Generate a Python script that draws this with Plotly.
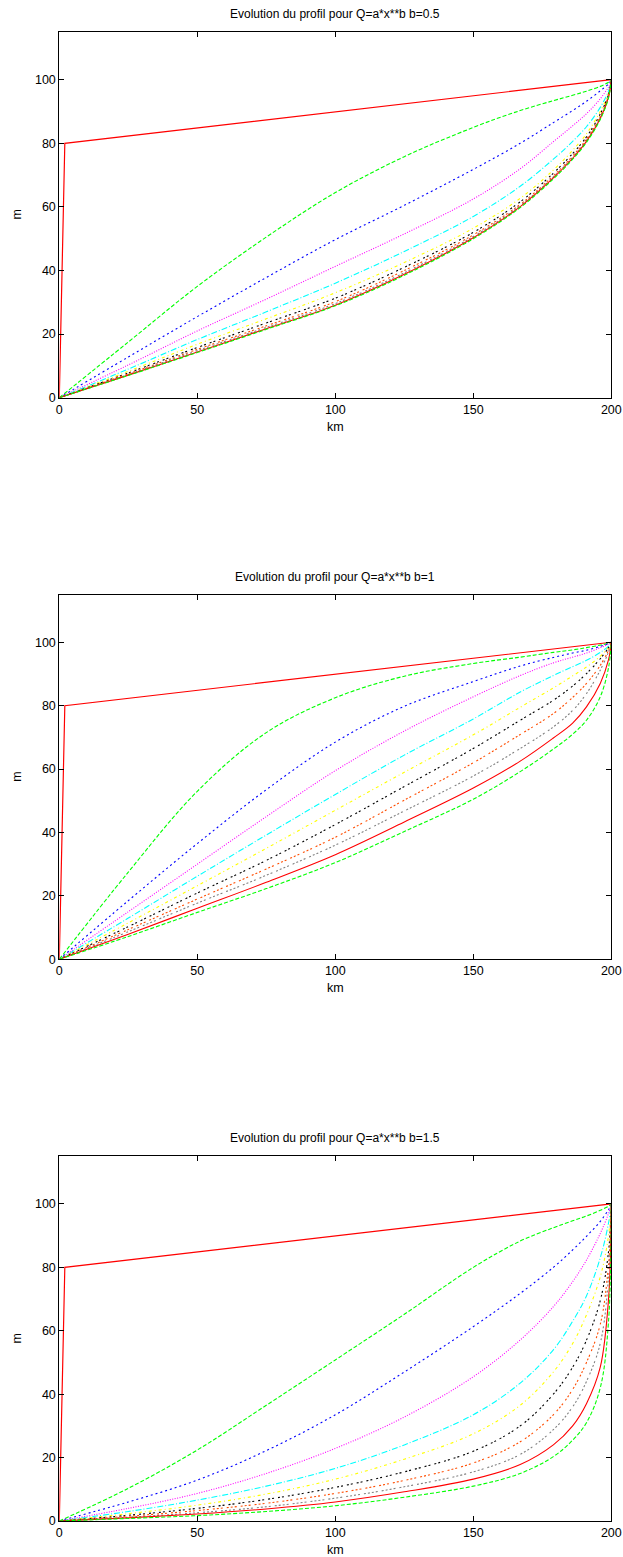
import plotly.graph_objects as go

# ---------------- data ----------------
x_km = [0, 25, 50, 75, 100, 125, 150, 167, 179, 186, 191, 196, 199, 200]

# initial profile (same in the three panels)
x_init = [0, 2, 200]
y_init = [0, 80, 100]

# panel b = 0.5
b05_c1 = [0, 17.5, 35, 50.5, 64.5, 75.8, 85, 90.3, 93.4, 95.1, 96.4, 97.9, 99.2, 100]
b05_c2 = [0, 12.8, 25.5, 37.8, 49.7, 60.5, 71.8, 80, 86.5, 90.3, 93.2, 96.5, 98.7, 100]
b05_c3 = [0, 10.3, 21, 31, 41.3, 51.5, 62.5, 72, 80.5, 85.5, 89.3, 94, 97.8, 100]
b05_c4 = [0, 9, 18.3, 27, 36, 46, 57, 66.5, 75, 80.6, 85.2, 91.3, 96.5, 100]
b05_c5 = [0, 8.3, 16.8, 24.8, 33, 42.5, 53.3, 62.7, 71.6, 77.8, 83, 90, 95.8, 100]
b05_c6 = [0, 7.8, 15.8, 23.5, 31.3, 41, 52, 61.6, 70.6, 76.8, 82, 89.2, 95.4, 100]
b05_c7 = [0, 7.5, 15.2, 22.6, 30.2, 40, 51.2, 60.8, 69.8, 76, 81.3, 88.5, 95, 100]
b05_c8 = [0, 7.3, 14.8, 22.1, 29.6, 39.3, 50.7, 60.4, 69.4, 75.6, 80.9, 88.1, 94.7, 100]
b05_c9 = [0, 7.1, 14.4, 21.7, 29.1, 38.8, 50.3, 60.1, 69.1, 75.3, 80.6, 87.8, 94.5, 100]
b05_c10 = [0, 7.0, 14.2, 21.5, 28.9, 38.5, 50, 59.8, 68.8, 75, 80.3, 87.5, 94.3, 100]

# panel b = 1
b1_c1 = [0, 27.5, 53, 71.5, 82.5, 89.3, 93.3, 95.3, 96.8, 97.6, 98.3, 99.1, 99.7, 100]
b1_c2 = [0, 18.5, 36.5, 53.5, 68.5, 79.8, 87.6, 92.5, 95.2, 96.6, 97.5, 98.7, 99.6, 100]
b1_c3 = [0, 15, 30, 45, 59.5, 72, 82.8, 89.5, 93.5, 95.3, 96.6, 98.3, 99.4, 100]
b1_c4 = [0, 13, 26.2, 39.2, 52, 64.4, 75.8, 84.3, 89.5, 92.3, 94.3, 96.8, 98.8, 100]
b1_c5 = [0, 11.5, 23.2, 35, 47, 59, 70.8, 79.5, 85.6, 89.4, 92.2, 95.6, 98.4, 100]
b1_c6 = [0, 10.3, 20.9, 31.2, 42.5, 54.5, 66.5, 75.4, 81.7, 86.2, 90.1, 94.8, 98.3, 100]
b1_c7 = [0, 9.4, 19, 28.5, 38.5, 50.2, 62, 70.9, 77.5, 82.6, 87, 92.7, 97.5, 100]
b1_c8 = [0, 8.7, 17.7, 26.5, 36, 46.8, 57.8, 66.5, 73.3, 78.5, 83.8, 91.2, 97, 100]
b1_c9 = [0, 7.9, 16.1, 24.3, 33, 43.3, 54, 62.5, 69.8, 74.5, 79.6, 87, 94.5, 100]
b1_c10 = [0, 7.2, 14.8, 22.3, 30.5, 40.3, 50.5, 59.2, 66.3, 71, 75.4, 82.8, 92, 100]

# panel b = 1.5
b15_c1 = [0, 10.3, 22.4, 36.5, 50.8, 65.2, 80, 88.3, 92.5, 94.7, 96.2, 98, 99.3, 100]
b15_c2 = [0, 6, 12.9, 22.2, 33.5, 47, 61.3, 71.8, 80, 85.5, 89.8, 94.5, 98.2, 100]
b15_c3 = [0, 4, 8.7, 15, 22.9, 32.8, 45.5, 57.1, 67.6, 75.5, 82.3, 90.7, 97, 100]
b15_c4 = [0, 3, 6.6, 11, 16.6, 24, 33.5, 43.5, 54, 63, 71, 83, 94, 100]
b15_c5 = [0, 2.3, 5, 8.5, 13.2, 19.5, 27.5, 36.5, 47, 56, 65, 77, 90, 100]
b15_c6 = [0, 1.8, 4, 6.8, 10.6, 15.5, 22, 30, 40, 48.5, 57, 69.5, 85, 100]
b15_c7 = [0, 1.5, 3.3, 5.6, 8.7, 12.8, 18.3, 25, 33.5, 41.5, 50, 62, 81, 100]
b15_c8 = [0, 1.2, 2.6, 4.5, 7.2, 10.8, 15.5, 21, 28.8, 36, 44, 56, 77, 100]
b15_c9 = [0, 1, 2.2, 3.8, 6, 9.2, 13.2, 17.8, 24, 30, 37, 48.5, 70, 100]
b15_c10 = [0, 0.8, 1.7, 3, 4.8, 7.5, 11, 15, 20.3, 25.5, 31, 42, 63, 100]

b_labels = ["0.5", "1", "1.5"]
x_ticks = [0, 50, 100, 150, 200]
y_ticks = [0, 20, 40, 60, 80, 100]

# ---------------- styles ----------------
styles = [
    ("#00ff00", "4px,2px"),
    ("#0000ff", "2px,3px"),
    ("#ff00ff", "1px,1.5px"),
    ("#00ffff", "6px,2px,1px,2px"),
    ("#ffff00", "3px,3px,1px,3px"),
    ("#000000", "2px,2px,2px,4px"),
    ("#ff4d00", "2px,2px,2px,2px,2px,4px"),
    ("#808080", "2px,2px,2px,2px,2px,2px,2px,4px"),
    ("#ff0000", "solid"),
    ("#00ff00", "4px,2px"),
]

panels = [
    [b05_c1, b05_c2, b05_c3, b05_c4, b05_c5, b05_c6, b05_c7, b05_c8, b05_c9, b05_c10],
    [b1_c1, b1_c2, b1_c3, b1_c4, b1_c5, b1_c6, b1_c7, b1_c8, b1_c9, b1_c10],
    [b15_c1, b15_c2, b15_c3, b15_c4, b15_c5, b15_c6, b15_c7, b15_c8, b15_c9, b15_c10],
]

# body margin is removed by the post script: figure coords == screen coords
W, H = 623, 1557
x_left, x_right = 59.3, 611.3
tops = [32.0, 594.7, 1156.4]
bottoms = [397.7, 959.3, 1521.0]

FONT = "Liberation Sans, Arial, Helvetica, sans-serif"

fig = go.Figure()
layout_axes = {}
annotations = []
for i, curves in enumerate(panels):
    n = "" if i == 0 else str(i + 1)
    xa, ya = "x" + n, "y" + n
    fig.add_trace(go.Scatter(x=x_init, y=y_init, mode="lines", xaxis=xa, yaxis=ya,
                             line=dict(color="#ff0000", width=1.2), hoverinfo="skip"))
    for (col, dash), yv in zip(styles, curves):
        fig.add_trace(go.Scatter(x=x_km, y=yv, mode="lines", xaxis=xa, yaxis=ya,
                                 line=dict(color=col, width=1.1, dash=dash,
                                           shape="spline", smoothing=1.0),
                                 hoverinfo="skip"))
    ydom = [1 - bottoms[i] / H, 1 - tops[i] / H]
    common = dict(showline=True, linecolor="black", linewidth=1, mirror="ticks",
                  ticks="inside", ticklen=5, tickcolor="black", showgrid=False,
                  zeroline=False, automargin=False,
                  tickfont=dict(family=FONT, size=12.5, color="black"))
    layout_axes["xaxis" + n] = dict(domain=[x_left / W, x_right / W], range=[0, 200],
                                    tickvals=x_ticks, anchor=ya, **common)
    layout_axes["yaxis" + n] = dict(domain=ydom, range=[0, 115], tickvals=y_ticks,
                                    anchor=xa, **common)
    cx = (x_left + x_right) / 2 / W
    annotations.append(dict(text="Evolution du profil pour Q=a*x**b b=" + b_labels[i],
                            x=cx, y=1 - (tops[i] - 18) / H, xref="paper", yref="paper",
                            xanchor="center", yanchor="middle", showarrow=False,
                            font=dict(family=FONT, size=12, color="black")))
    annotations.append(dict(text="km", x=cx, y=1 - (bottoms[i] + 29) / H,
                            xref="paper", yref="paper", xanchor="center", yanchor="middle",
                            showarrow=False, font=dict(family=FONT, size=12.5, color="black")))
    annotations.append(dict(text="m", x=16.7 / W, y=1 - (tops[i] + bottoms[i]) / 2 / H,
                            xref="paper", yref="paper", xanchor="center", yanchor="middle",
                            textangle=-90, showarrow=False,
                            font=dict(family=FONT, size=12.5, color="black")))

fig.update_layout(width=W, height=H, margin=dict(l=0, r=0, t=0, b=0),
                  paper_bgcolor="white", plot_bgcolor="white", showlegend=False,
                  hovermode=False, annotations=annotations, **layout_axes)

# remove the default page margin and scrollbars so the figure fills the window
fig.write_html("out.html",
               config={"displayModeBar": False, "staticPlot": True},
               post_script="document.body.style.margin='0';"
                           "document.documentElement.style.overflow='hidden';"
                           "document.body.style.overflow='hidden';")
